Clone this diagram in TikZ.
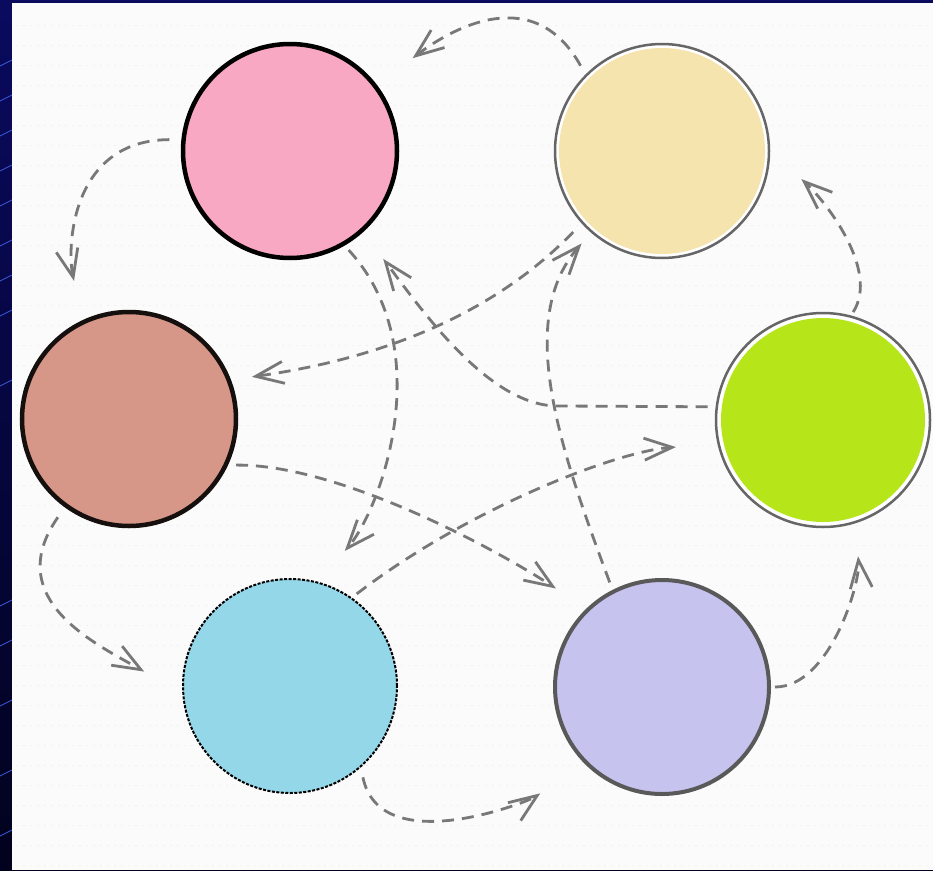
\documentclass[tikz,border=0pt]{standalone}
\usetikzlibrary{arrows.meta}
\definecolor{navyc}{RGB}{10,10,95}
\definecolor{navyd}{RGB}{2,2,30}
\definecolor{panelc}{RGB}{251,251,251}
\definecolor{pinkc}{RGB}{249,168,196}
\definecolor{creamc}{RGB}{245,228,174}
\definecolor{brownc}{RGB}{214,150,136}
\definecolor{greenc}{RGB}{182,230,26}
\definecolor{bluec}{RGB}{148,215,233}
\definecolor{lavc}{RGB}{199,195,239}
\definecolor{arrowc}{RGB}{120,120,120}
\definecolor{streakc}{RGB}{60,90,220}
\tikzset{
  ball/.style={circle, minimum size=214pt, inner sep=0pt},
  conn/.style={draw=arrowc, line width=2.8pt, dash pattern=on 12pt off 8pt,
    -{Straight Barb[length=28pt, width=22pt, line width=2.8pt]}},
}
\begin{document}
\begin{tikzpicture}[x=1pt,y=-1pt]
\useasboundingbox (0,0) rectangle (933,870);
% background
\shade[top color=navyc, bottom color=navyd] (0,0) rectangle (933,870);
\foreach \yy in {60,95,130,165,200,240,275,310,380,600,640,700,770,830}
  \draw[streakc, line width=0.7pt] (0,\yy+6) -- (12,\yy);
\fill[panelc] (12,3) rectangle (933,870);
\foreach \yy in {25,45,...,865}
  \draw[black!6, line width=1pt, dash pattern=on 2pt off 5pt] (16,\yy) -- (931,\yy);
% circles
\node[ball, fill=pinkc, draw=black, line width=4.5pt] (pink) at (290,151) {};
\node[ball, fill=white, draw=black!60, line width=2.5pt,
  path picture={\fill[creamc] (path picture bounding box.center) circle (103pt);}] (cream) at (662,151) {};
\node[ball, fill=brownc, draw=black!90!brownc, line width=4.5pt] (brown) at (129,419) {};
\node[ball, fill=white, draw=black!60, line width=2.5pt,
  path picture={\fill[greenc] (path picture bounding box.center) circle (102pt);}] (green) at (823,420) {};
\node[ball, fill=bluec, draw=black, line width=2pt, dash pattern=on 3pt off 1.5pt] (blue) at (290,686) {};
\node[ball, fill=lavc, draw=black!65, line width=4pt] (lav) at (662,687) {};
% outer ring of arrows
\draw[conn, shorten <=10pt, shorten >=44.5pt] (cream.135) .. controls (530,-25) and (438.8,38.1) .. (pink.37);
\draw[conn, shorten <=12pt, shorten >=40pt] (pink.174) .. controls (70,140) and (66.8,249) .. (brown.115);
\draw[conn, shorten <=12pt, shorten >=43.9pt] (brown.234) .. controls (0,600) and (98.2,645) .. (blue.184);
\draw[conn, shorten <=10pt, shorten >=53pt] (blue.311) .. controls (380,860) and (528,802) .. (lav.224);
\draw[conn, shorten <=4pt, shorten >=33pt] (lav.0) .. controls (830,687) and (860.7,582.2) .. (green.287);
\draw[conn, shorten <=4pt, shorten >=41.9pt] (green.75) .. controls (880,270) and (824.5,200) .. (cream.0);
% inner star of arrows
\draw[conn, shorten <=6pt, shorten >=40.75pt] (pink.300) .. controls (440,350) and (380,510.6) .. (blue.75);
\draw[conn, shorten <=8pt, shorten >=33.5pt] (green.173) -- (560,406) .. controls (490,408) and (421.9,310.2) .. (pink.312);
\draw[conn, shorten <=8pt, shorten >=14.3pt] (lav.117) .. controls (560,449) and (515,320) .. (cream.229);
\draw[conn, shorten <=12pt, shorten >=21.1pt] (cream.222) .. controls (477.5,330.6) and (348.1,363.2) .. (brown.21);
\draw[conn, shorten <=8pt, shorten >=36.4pt] (brown.335) .. controls (340,464) and (500.1,551.6) .. (lav.134);
\draw[conn, shorten <=6pt, shorten >=41.7pt] (blue.55) .. controls (470,507) and (618.6,450.8) .. (green.193);
\end{tikzpicture}
\end{document}
